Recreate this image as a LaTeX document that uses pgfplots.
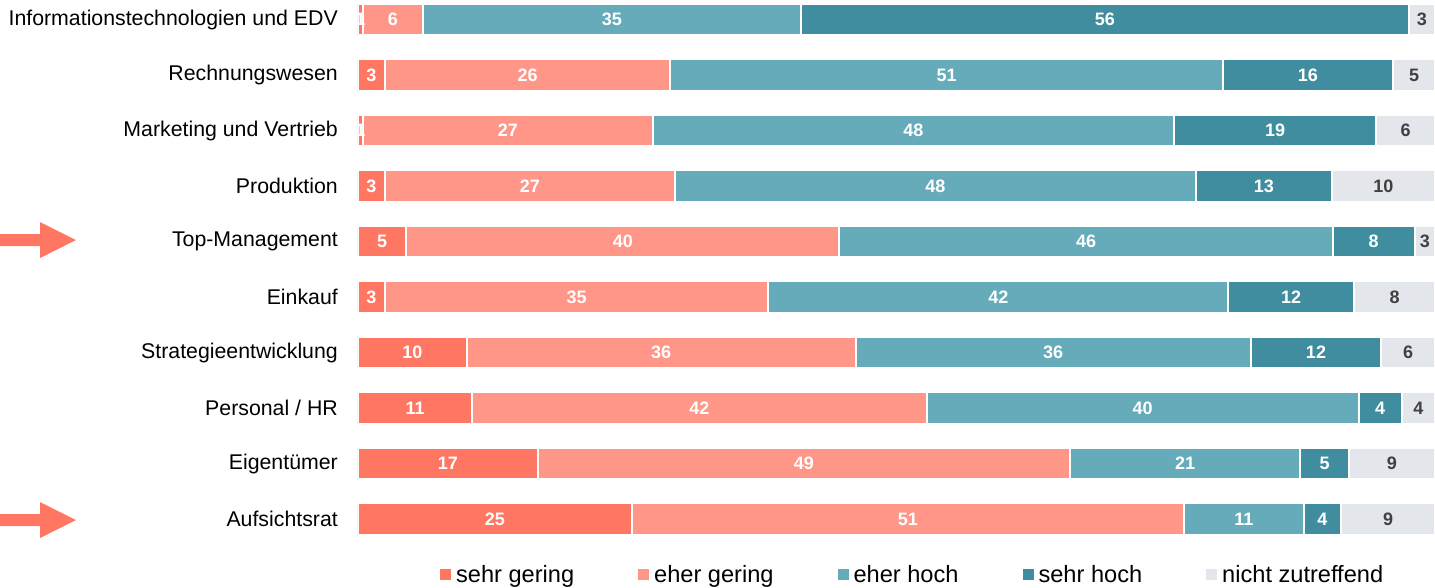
\documentclass[border=0pt]{standalone}
\usepackage{pgfplots}
\pgfplotsset{compat=1.18}
\usepackage{pgfplotstable}
\usepackage{fontspec}
\setmainfont{Liberation Sans}
\definecolor{cA}{HTML}{FF7763}
\definecolor{cB}{HTML}{FF9687}
\definecolor{cC}{HTML}{66ABBA}
\definecolor{cD}{HTML}{408DA0}
\definecolor{cE}{HTML}{E3E6EA}
\definecolor{lab}{HTML}{404040}

\pgfplotstableread{
row a b c d e la lb lc ld le
0 0.46 5.57 35.1 56.45 2.42 1 6 35 56 3
1 2.5 26.5 51.3 15.8 3.9 3 26 51 16 5
2 0.46 26.9 48.4 18.8 5.44 1 27 48 19 6
3 2.5 26.9 48.4 12.6 9.6 3 27 48 13 10
4 4.5 40.2 45.8 7.6 1.9 5 40 46 8 3
5 2.5 35.6 42.7 11.7 7.5 3 35 42 12 8
6 10.1 36.1 36.7 12.1 5.0 10 36 36 12 6
7 10.6 42.2 40.1 4.0 3.1 11 42 40 4 4
8 16.7 49.4 21.4 4.5 8.0 17 49 21 5 9
9 25.4 51.3 11.1 3.5 8.7 25 51 11 4 9
}\data

\pgfplotsset{
  common/.style={
    scale only axis, width=1077pt, height=540pt,
    xmin=0, xmax=100, ymin=-0.355, ymax=9.378, y dir=reverse,
    at={(358pt,-540pt)}, anchor=south west,
  },
  lbl/.style={only marks, mark=none, nodes near coords, point meta=explicit symbolic,
    every node near coord/.append style={anchor=center, inner sep=0pt,
      font=\bfseries\fontsize{18}{20}\selectfont, text=#1}},
}
\begin{document}
\begin{tikzpicture}
\path[use as bounding box] (0pt,0pt) rectangle (1435pt,-587pt);
\begin{axis}[common, xbar stacked, bar width=31.5pt,
  hide x axis, axis y line*=left, y axis line style={draw=none},
  ytick={0,...,9},
  yticklabels={Informationstechnologien und EDV, Rechnungswesen, Marketing und Vertrieb, Produktion, Top-Management, Einkauf, Strategieentwicklung, Personal / HR, Eigentümer, Aufsichtsrat},
  major tick length=0pt,
  yticklabel style={font=\fontsize{21.3}{24}\selectfont, inner sep=0pt, xshift=-20pt},
  legend columns=5,
  legend style={at={(0.515,-0.065)}, anchor=center, draw=none, fill=none,
    font=\fontsize{23.6}{26}\selectfont, inner sep=0pt,
    /tikz/every odd column/.append style={column sep=3pt},
    /tikz/every even column/.append style={column sep=62pt}},
]
\addplot[fill=cA, draw=white, line width=2pt, legend image code/.code={\fill[cA] (0pt,-4pt) rectangle (9pt,5pt);}] table[x=a,y=row]{\data};
\addplot[fill=cB, draw=white, line width=2pt, legend image code/.code={\fill[cB] (0pt,-4pt) rectangle (9pt,5pt);}] table[x=b,y=row]{\data};
\addplot[fill=cC, draw=white, line width=2pt, legend image code/.code={\fill[cC] (0pt,-4pt) rectangle (9pt,5pt);}] table[x=c,y=row]{\data};
\addplot[fill=cD, draw=white, line width=2pt, legend image code/.code={\fill[cD] (0pt,-4pt) rectangle (9pt,5pt);}] table[x=d,y=row]{\data};
\addplot[fill=cE, draw=white, line width=2pt, legend image code/.code={\fill[cE] (0pt,-4pt) rectangle (9pt,5pt);}] table[x=e,y=row]{\data};
\legend{sehr gering, eher gering, eher hoch, sehr hoch, nicht zutreffend}
\end{axis}
\begin{axis}[common, hide axis, clip=false]
\addplot[lbl=white] table[x expr=\thisrow{a}/2, y=row, meta=la]{\data};
\addplot[lbl=white] table[x expr=\thisrow{a}+\thisrow{b}/2, y=row, meta=lb]{\data};
\addplot[lbl=white] table[x expr=\thisrow{a}+\thisrow{b}+\thisrow{c}/2, y=row, meta=lc]{\data};
\addplot[lbl=white] table[x expr=\thisrow{a}+\thisrow{b}+\thisrow{c}+\thisrow{d}/2, y=row, meta=ld]{\data};
\addplot[lbl=lab] table[x expr=\thisrow{a}+\thisrow{b}+\thisrow{c}+\thisrow{d}+\thisrow{e}/2, y=row, meta=le]{\data};
\end{axis}
\fill[cA] (0pt,-234pt) -- (40pt,-234pt) -- (40pt,-222pt) -- (76pt,-240pt) -- (40pt,-258pt) -- (40pt,-246pt) -- (0pt,-246pt) -- cycle;
\fill[cA] (0pt,-514pt) -- (40pt,-514pt) -- (40pt,-502pt) -- (76pt,-520pt) -- (40pt,-538pt) -- (40pt,-526pt) -- (0pt,-526pt) -- cycle;
\end{tikzpicture}
\end{document}
